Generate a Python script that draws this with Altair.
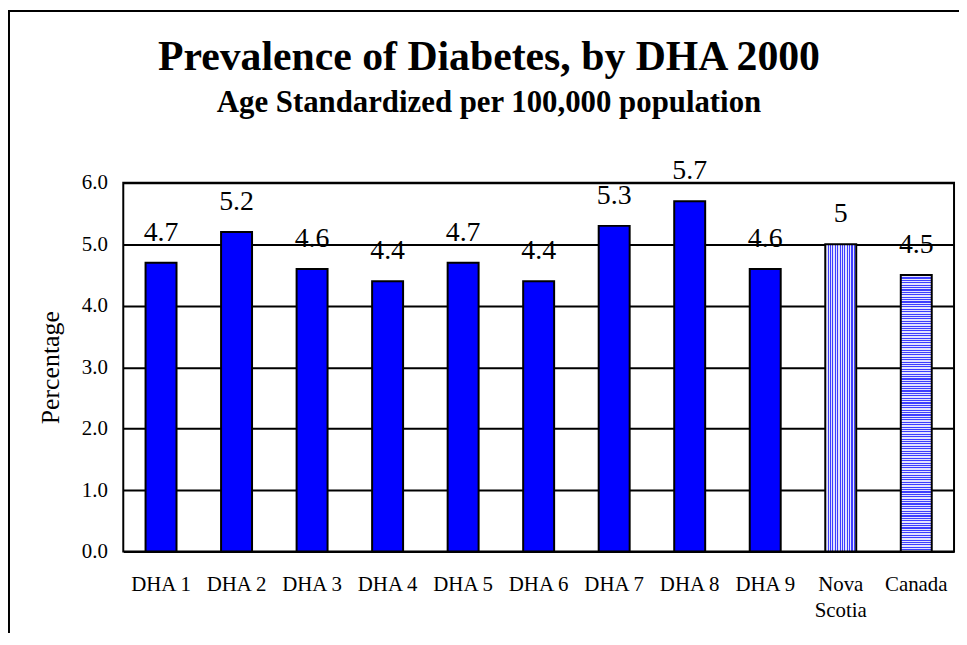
import altair as alt
import pandas as pd

# ---- data ----
regions = ["DHA 1", "DHA 2", "DHA 3", "DHA 4", "DHA 5", "DHA 6", "DHA 7",
           "DHA 8", "DHA 9", "Nova Scotia", "Canada"]
values = [4.7, 5.2, 4.6, 4.4, 4.7, 4.4, 5.3, 5.7, 4.6, 5.0, 4.5]
value_labels = ["4.7", "5.2", "4.6", "4.4", "4.7", "4.4", "5.3", "5.7", "4.6", "5", "4.5"]
y_ticks = [0, 1, 2, 3, 4, 5, 6]

df = pd.DataFrame({"Region": regions, "Value": values, "Label": value_labels})

FONT = "Liberation Serif"
PLOT_W, PLOT_H = 836, 371


def stripes(n, vertical):
    stops = []
    for i in range(n):
        a = i / n
        b = (i + 0.45) / n
        c = (i + 1) / n
        stops += [
            {"offset": a, "color": "#3F3FFF"},
            {"offset": b, "color": "#3F3FFF"},
            {"offset": b, "color": "#E4E4FF"},
            {"offset": c, "color": "#E4E4FF"},
        ]
    g = {"gradient": "linear", "stops": stops}
    if vertical:
        g.update(x1=0, y1=0, x2=1, y2=0)
    else:
        g.update(x1=0, y1=0, x2=0, y2=1)
    return g


x_enc = alt.X(
    "Region:N",
    sort=regions,
    scale=alt.Scale(domain=regions, paddingInner=0, paddingOuter=0),
    axis=alt.Axis(
        title=None, labelAngle=0, labelFont=FONT, labelFontSize=21,
        labelColor="black", labelPadding=22, ticks=False, tickSize=0,
        domain=False, labelLineHeight=26, labelBaseline="top",
        labelExpr="datum.label == 'Nova Scotia' ? ['Nova', 'Scotia'] : datum.label",
    ),
)
y_enc = alt.Y(
    "Value:Q",
    scale=alt.Scale(domain=[0, 6]),
    axis=alt.Axis(
        values=y_ticks, format=".1f", title="Percentage", titleFont=FONT,
        titleFontSize=26, titleFontWeight="normal", titleColor="black",
        titlePadding=18, labelFont=FONT, labelFontSize=21, labelColor="black",
        labelPadding=16, ticks=False, tickSize=0, domain=False, grid=True,
        gridColor="black", gridWidth=2, gridOpacity=1,
    ),
)

base = alt.Chart(df).encode(x=x_enc, y=y_enc)
bar_w = alt.RelativeBandSize(0.41)

dha = base.transform_filter(
    "datum.Region != 'Nova Scotia' && datum.Region != 'Canada'"
).mark_bar(fill="#0000FF", stroke="black", strokeWidth=2, width=bar_w)

ns = base.transform_filter("datum.Region == 'Nova Scotia'").mark_bar(
    fill=stripes(13, True), stroke="black", strokeWidth=2, width=bar_w)

ca = base.transform_filter("datum.Region == 'Canada'").mark_bar(
    fill=stripes(115, False), stroke="black", strokeWidth=2, width=bar_w)

txt = base.mark_text(font=FONT, fontSize=28, dy=-22, baseline="alphabetic",
                     color="black").encode(text="Label:N")

frame_df = pd.DataFrame({"k": [0]})
frame_left = alt.Chart(frame_df).mark_rule(color="black", strokeWidth=2).encode(
    x=alt.value(-115), y=alt.value(-173), y2=alt.value(470))
frame_top = alt.Chart(frame_df).mark_rule(color="black", strokeWidth=2).encode(
    x=alt.value(-116), x2=alt.value(850), y=alt.value(-173))

chart = alt.layer(dha, ns, ca, txt, frame_left, frame_top).properties(
    width=PLOT_W,
    height=PLOT_H,
    autosize=alt.AutoSizeParams(type="none"),
    padding={"left": 116, "top": 174, "right": 5, "bottom": 80},
    title=alt.Title(
        "Prevalence of Diabetes, by DHA 2000",
        subtitle="Age Standardized per 100,000 population",
        font=FONT, fontSize=42, fontWeight="bold", color="black",
        subtitleFont=FONT, subtitleFontSize=31, subtitleFontWeight="bold",
        subtitleColor="black", subtitlePadding=10, anchor="middle",
        frame="group", dx=-50, offset=-110,
    ),
).configure_view(stroke="black", strokeWidth=2)

chart.save("out.html", embed_options={"renderer": "svg", "actions": False})
